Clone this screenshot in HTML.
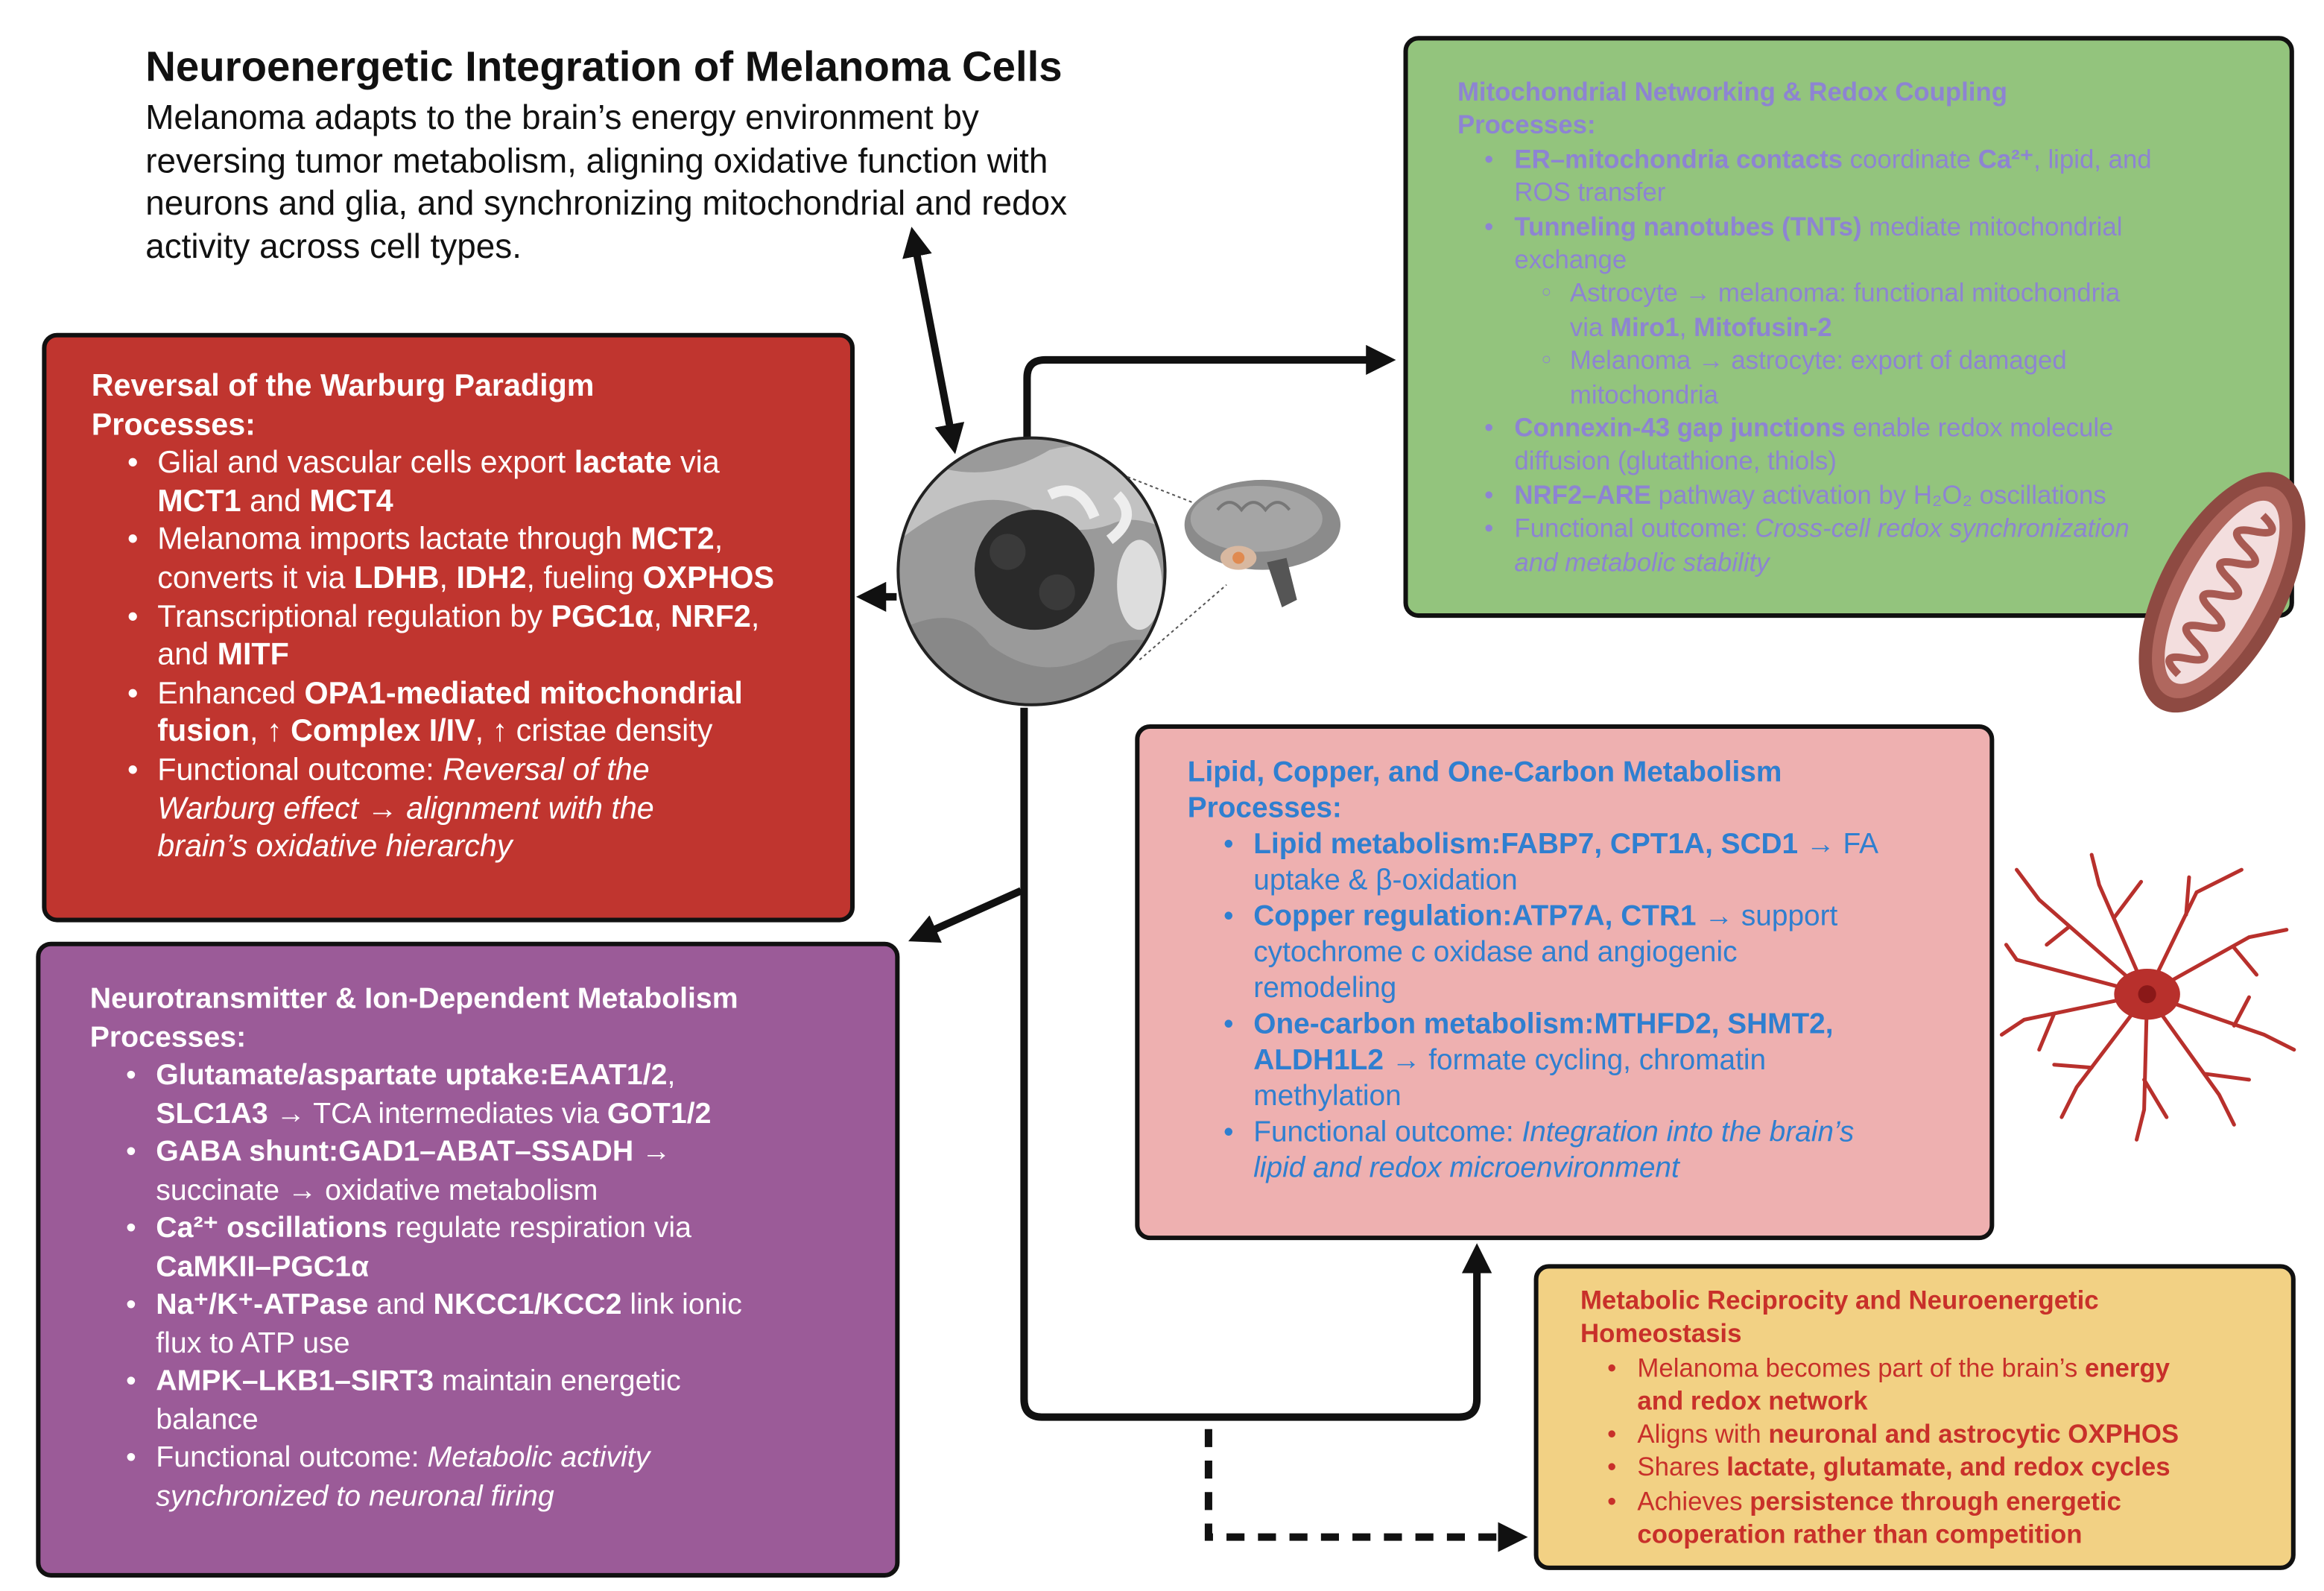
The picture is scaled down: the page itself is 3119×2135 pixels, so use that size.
<!DOCTYPE html>
<html><head><meta charset="utf-8"><style>
html,body{margin:0;padding:0;background:#fff;}
body{width:3119px;height:2134px;overflow:hidden;position:relative;}
#s{position:absolute;left:0;top:0;width:1550px;height:1061px;transform:scale(2.0123);transform-origin:0 0;font-family:"Liberation Sans",Arial,sans-serif;}
.box{position:absolute;border:3px solid #111;border-radius:10px;box-sizing:border-box;}
.t{position:absolute;white-space:nowrap;}
.li{position:relative;margin-left:44px;}
.li:before{content:"•";position:absolute;left:-20px;}
.sub{position:relative;margin-left:81px;}
.sub:before{content:"○";position:absolute;left:-19px;font-size:11px;}
</style></head><body><div id="s">

<div class="t" style="left:97px;top:29px;font-size:28px;font-weight:bold;color:#111;line-height:32px;">Neuroenergetic Integration of Melanoma Cells</div>
<div class="t" style="left:97px;top:64px;font-size:22.8px;color:#111;line-height:28.7px;">Melanoma adapts to the brain’s energy environment by<br>reversing tumor metabolism, aligning oxidative function with<br>neurons and glia, and synchronizing mitochondrial and redox<br>activity across cell types.</div>

<svg style="position:absolute;left:0;top:0" width="1550" height="1061">
<defs>
<marker id="a" markerWidth="4" markerHeight="4" refX="2.2" refY="2" orient="auto" markerUnits="strokeWidth"><path d="M0,0 L4,2 L0,4 z" fill="#111"/></marker>
<marker id="b" markerWidth="4" markerHeight="4" refX="1.8" refY="2" orient="auto-start-reverse" markerUnits="strokeWidth"><path d="M0,0 L4,2 L0,4 z" fill="#111"/></marker>
</defs>
<g stroke="#111" stroke-width="5" fill="none">
<line x1="610" y1="162" x2="635" y2="292" marker-start="url(#b)" marker-end="url(#b)"/>
<line x1="598" y1="398" x2="580" y2="398" marker-end="url(#a)"/>
<path d="M685 292 V252 Q685 240 697 240 H922" marker-end="url(#a)"/>
<path d="M683 472 V933 Q683 945 695 945 H973 Q985 945 985 933 V838" marker-end="url(#a)"/>
<line x1="681" y1="594" x2="614" y2="624" marker-end="url(#a)"/>
<path d="M806 953 V1025 H1010" stroke-dasharray="12 9" marker-end="url(#a)"/>
</g>
<defs><clipPath id="c"><circle cx="688" cy="381" r="89"/></clipPath></defs>
<g clip-path="url(#c)">
<rect x="590" y="290" width="200" height="190" fill="#9a9a9a"/>
<path d="M600 300 Q650 330 700 300 Q740 290 790 310 V360 Q760 340 740 350 Q710 360 690 340 Q650 320 600 360 Z" fill="#c2c2c2"/>
<path d="M600 420 Q640 400 660 430 Q700 460 740 430 Q770 420 790 440 V480 H600 Z" fill="#888"/>
<path d="M700 330 Q720 320 730 345 M745 330 Q760 345 740 360" stroke="#eee" stroke-width="7" fill="none"/>
<ellipse cx="760" cy="390" rx="15" ry="30" fill="#ddd"/>
<circle cx="690" cy="380" r="40" fill="#2a2a2a"/>
<circle cx="672" cy="368" r="12" fill="#3a3a3a"/><circle cx="705" cy="395" r="12" fill="#3a3a3a"/>
</g>
<circle cx="688" cy="381" r="89" fill="none" stroke="#222" stroke-width="2"/>
<line x1="752" y1="318" x2="808" y2="340" stroke="#555" stroke-dasharray="2 2"/>
<line x1="760" y1="440" x2="818" y2="390" stroke="#555" stroke-dasharray="2 2"/>
<ellipse cx="842" cy="350" rx="52" ry="30" fill="#8b8b8b"/>
<ellipse cx="838" cy="346" rx="44" ry="22" fill="#a5a5a5"/>
<path d="M812 340 q8 -10 16 0 q8 -10 16 0 q8 -10 16 0" stroke="#777" fill="none" stroke-width="2"/>
<ellipse cx="826" cy="372" rx="12" ry="8" fill="#d8b8a0"/>
<circle cx="826" cy="372" r="4" fill="#e08a50"/>
<path d="M845 375 L855 405 L865 400 L858 372 Z" fill="#555"/>
<g stroke="#b8302c" stroke-width="2.5" fill="none" stroke-linecap="round">
<path d="M1432 663 L1360 600 L1345 580 M1380 618 L1365 630"/>
<path d="M1432 663 L1400 590 L1395 570 M1410 612 L1428 588"/>
<path d="M1432 663 L1465 595 L1495 580 M1458 610 L1460 585"/>
<path d="M1432 663 L1500 625 L1525 620 M1490 632 L1505 650"/>
<path d="M1432 663 L1510 690 L1530 700 M1490 684 L1500 665"/>
<path d="M1432 663 L1480 730 L1490 750 M1470 716 L1500 720"/>
<path d="M1432 663 L1430 740 L1425 760 M1430 720 L1445 745"/>
<path d="M1432 663 L1385 725 L1375 745 M1395 712 L1370 710"/>
<path d="M1432 663 L1350 680 L1335 690 M1370 676 L1360 700"/>
<path d="M1432 663 L1345 640 L1338 630"/>
</g>
<ellipse cx="1432" cy="663" rx="22" ry="17" fill="#b8302c"/>
<circle cx="1432" cy="663" r="6" fill="#8a1818"/>
</svg>

<div class="box" style="left:936px;top:24px;width:594px;height:388px;background:#93c47d;"></div>
<div class="t" style="left:972px;top:50px;font-size:17.3px;line-height:22.4px;color:#8d84d2;">
<b>Mitochondrial Networking &amp; Redox Coupling</b><br><b>Processes:</b>
<div class="li" style="margin-left:38px"><b>ER–mitochondria contacts</b> coordinate <b>Ca²⁺</b>, lipid, and<br>ROS transfer</div>
<div class="li" style="margin-left:38px"><b>Tunneling nanotubes (TNTs)</b> mediate mitochondrial<br>exchange</div>
<div class="sub" style="margin-left:75px">Astrocyte → melanoma: functional mitochondria<br>via <b>Miro1</b>, <b>Mitofusin-2</b></div>
<div class="sub" style="margin-left:75px">Melanoma → astrocyte: export of damaged<br>mitochondria</div>
<div class="li" style="margin-left:38px"><b>Connexin-43 gap junctions</b> enable redox molecule<br>diffusion (glutathione, thiols)</div>
<div class="li" style="margin-left:38px"><b>NRF2–ARE</b> pathway activation by H₂O₂ oscillations</div>
<div class="li" style="margin-left:38px">Functional outcome: <i>Cross-cell redox synchronization<br>and metabolic stability</i></div>
</div>
<svg style="position:absolute;left:1400px;top:300px" width="150" height="190">
<g transform="translate(-1400 -300) rotate(-62 1482 395)">
<ellipse cx="1482" cy="395" rx="88" ry="42" fill="#8e4a42"/>
<ellipse cx="1482" cy="395" rx="78" ry="33" fill="#b0675e"/>
<ellipse cx="1482" cy="395" rx="68" ry="24" fill="#f3dede"/>
<path d="M1420 395 q6 -20 12 0 q6 20 12 0 q6 -20 12 0 q6 20 12 0 q6 -20 12 0 q6 20 12 0 q6 -20 12 0 q6 20 12 0 q6 -20 12 0 q6 20 12 0" stroke="#a85a52" stroke-width="5" fill="none"/>
</g></svg>

<div class="box" style="left:28px;top:222px;width:542px;height:393px;background:#c0352f;"></div>
<div class="t" style="left:61px;top:245px;font-size:20.5px;line-height:25.6px;color:#fff;">
<b>Reversal of the Warburg Paradigm</b><br><b>Processes:</b>
<div class="li">Glial and vascular cells export <b>lactate</b> via<br><b>MCT1</b> and <b>MCT4</b></div>
<div class="li">Melanoma imports lactate through <b>MCT2</b>,<br>converts it via <b>LDHB</b>, <b>IDH2</b>, fueling <b>OXPHOS</b></div>
<div class="li">Transcriptional regulation by <b>PGC1α</b>, <b>NRF2</b>,<br>and <b>MITF</b></div>
<div class="li">Enhanced <b>OPA1-mediated mitochondrial<br>fusion</b>, ↑ <b>Complex I/IV</b>, ↑ cristae density</div>
<div class="li">Functional outcome: <i>Reversal of the<br>Warburg effect → alignment with the<br>brain’s oxidative hierarchy</i></div>
</div>

<div class="box" style="left:24px;top:628px;width:576px;height:424px;background:#9b5b98;"></div>
<div class="t" style="left:60px;top:654px;font-size:19.5px;line-height:25.5px;color:#fff;">
<b>Neurotransmitter &amp; Ion-Dependent Metabolism</b><br><b>Processes:</b>
<div class="li"><b>Glutamate/aspartate uptake:EAAT1/2</b>,<br><b>SLC1A3</b> → TCA intermediates via <b>GOT1/2</b></div>
<div class="li"><b>GABA shunt:GAD1–ABAT–SSADH</b> →<br>succinate → oxidative metabolism</div>
<div class="li"><b>Ca²⁺ oscillations</b> regulate respiration via<br><b>CaMKII–PGC1α</b></div>
<div class="li"><b>Na⁺/K⁺-ATPase</b> and <b>NKCC1/KCC2</b> link ionic<br>flux to ATP use</div>
<div class="li"><b>AMPK–LKB1–SIRT3</b> maintain energetic<br>balance</div>
<div class="li">Functional outcome: <i>Metabolic activity<br>synchronized to neuronal firing</i></div>
</div>

<div class="box" style="left:757px;top:483px;width:573px;height:344px;background:#eeb0b0;"></div>
<div class="t" style="left:792px;top:504px;font-size:19.3px;line-height:24px;color:#2f7fd0;">
<b>Lipid, Copper, and One-Carbon Metabolism</b><br><b>Processes:</b>
<div class="li"><b>Lipid metabolism:FABP7, CPT1A, SCD1</b> → FA<br>uptake &amp; β-oxidation</div>
<div class="li"><b>Copper regulation:ATP7A, CTR1</b> → support<br>cytochrome c oxidase and angiogenic<br>remodeling</div>
<div class="li"><b>One-carbon metabolism:MTHFD2, SHMT2,<br>ALDH1L2</b> → formate cycling, chromatin<br>methylation</div>
<div class="li">Functional outcome: <i>Integration into the brain’s<br>lipid and redox microenvironment</i></div>
</div>

<div class="box" style="left:1023px;top:843px;width:508px;height:204px;background:#f2d184;"></div>
<div class="t" style="left:1054px;top:856px;font-size:17.3px;line-height:22.3px;color:#c8302a;">
<b>Metabolic Reciprocity and Neuroenergetic</b><br><b>Homeostasis</b>
<div class="li" style="margin-left:38px">Melanoma becomes part of the brain’s <b>energy<br>and redox network</b></div>
<div class="li" style="margin-left:38px">Aligns with <b>neuronal and astrocytic OXPHOS</b></div>
<div class="li" style="margin-left:38px">Shares <b>lactate, glutamate, and redox cycles</b></div>
<div class="li" style="margin-left:38px">Achieves <b>persistence through energetic<br>cooperation rather than competition</b></div>
</div>

</div></body></html>
